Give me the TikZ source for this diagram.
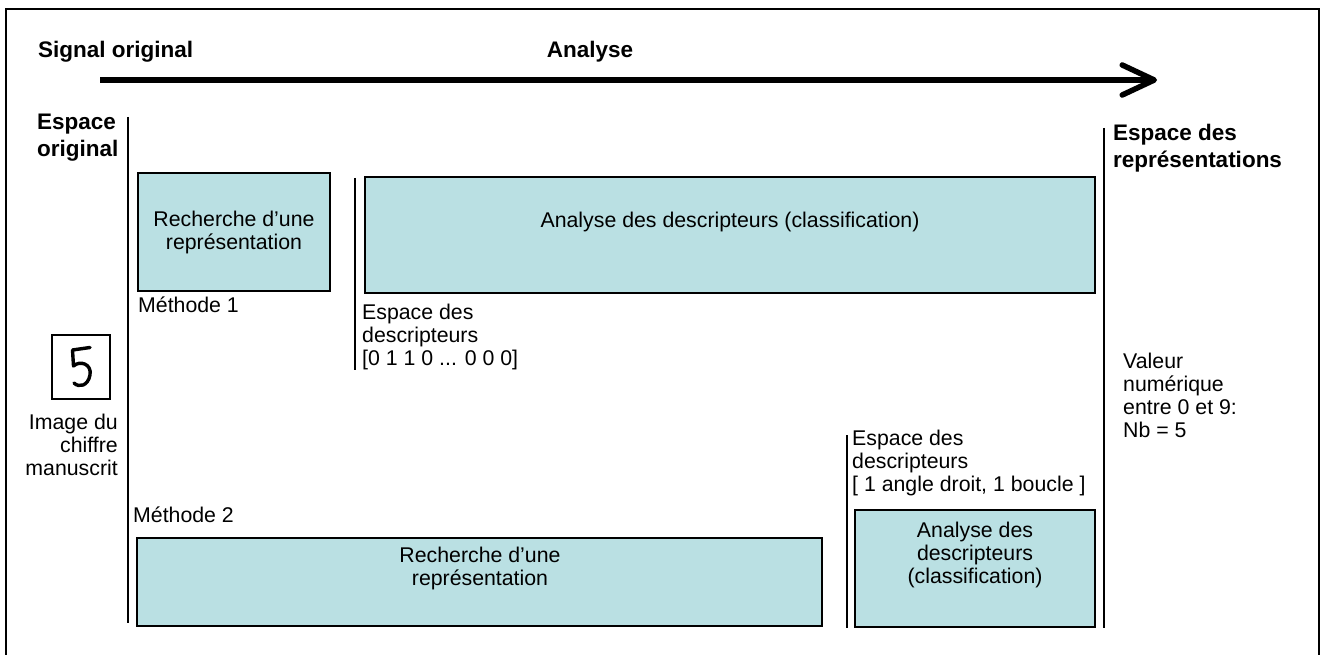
\documentclass[tikz,border=0pt]{standalone}
\usepackage{fontspec}
\setmainfont{Liberation Sans}
\usetikzlibrary{arrows.meta}
\definecolor{boxblue}{RGB}{186,224,227}

\begin{document}
\begin{tikzpicture}[x=1pt, y=-1pt,
    box/.style={draw, line width=1.8pt, fill=boxblue, inner sep=0pt},
    txt/.style={inner sep=0pt, font=\fontsize{21.3}{23}\selectfont},
    head/.style={inner sep=0pt, font=\bfseries\fontsize{22.5}{27}\selectfont},
    sep/.style={line width=1.6pt}]
    \useasboundingbox (0,0) rectangle (1322,655);
    \draw[line width=2.6pt] (6,665) -- (6,9) -- (1319,9) -- (1319,665);

    \node[head, anchor=base west] at (38, 58) (signal) {Signal original};
    \node[head, anchor=base] at (590, 58) (analyse) {Analyse};
    \coordinate (arrowStart) at (100, 80);
    \coordinate (arrowEnd) at (1157, 80);
    \draw[line width=5.5pt, -{Straight Barb[length=32pt, width=30pt, round]}] (arrowStart) -- (arrowEnd);

    \node[head, anchor=north west, align=left] at (37, 114) (origSpace) {Espace\\original};
    \node[head, anchor=north west, align=left] at (1113, 124) (reprSpace) {Espace des\\représentations};

    \draw[sep] (128, 117) -- (128, 623);
    \draw[sep] (355, 178) -- (355, 370);
    \draw[sep] (847, 435) -- (847, 628);
    \draw[sep] (1104, 128) -- (1104, 628);

    \node[box, minimum width=192pt, minimum height=118pt] at (234, 232) (rechA) {};
    \node[txt, anchor=north, align=center] at (234, 210.7) (rechAText) {Recherche d’une\\représentation};
    \node[txt, anchor=base west] at (138, 312) (meth1) {Méthode 1};

    \node[box, minimum width=730pt, minimum height=116pt] at (730, 235) (anaB) {};
    \node[txt, anchor=base] at (730, 228) (anaBText) {Analyse des descripteurs (classification)};
    \node[txt, anchor=north west, align=left] at (362, 303.7) (descr1) {Espace des\\descripteurs\\{[0 1 1 0 ... 0 0 0]}};

    \node[draw, line width=1.6pt, minimum width=58pt, minimum height=64pt, inner sep=0pt] at (81, 367) (digitImg) {};
    \draw[line width=3.4pt, line cap=round, line join=round]
        (90, 347.5) -- (72.5, 350) -- (73.5, 366)
        .. controls (80, 360) and (92, 364) .. (90, 375)
        .. controls (88, 386) and (79, 388) .. (74, 383);
    \node[txt, anchor=north east, align=right] at (118, 413.7) (digitText) {Image du\\chiffre\\manuscrit};

    \node[txt, anchor=north west, align=left] at (1123, 352.7) (valeur) {Valeur\\numérique\\entre 0 et 9:\\Nb = 5};

    \node[txt, anchor=base west] at (133, 522) (meth2) {Méthode 2};
    \node[box, minimum width=685pt, minimum height=88pt] at (479.5, 582) (rechC) {};
    \node[txt, anchor=north, align=center] at (480, 546.7) (rechCText) {Recherche d’une\\représentation};

    \node[txt, anchor=north west, align=left] at (852, 429.7) (descr2) {Espace des\\descripteurs\\{[ 1 angle droit, 1 boucle ]}};
    \node[box, minimum width=240pt, minimum height=117pt] at (975, 568.5) (anaD) {};
    \node[txt, anchor=north, align=center] at (975, 521.7) (anaDText) {Analyse des\\descripteurs\\(classification)};
\end{tikzpicture}
\end{document}
